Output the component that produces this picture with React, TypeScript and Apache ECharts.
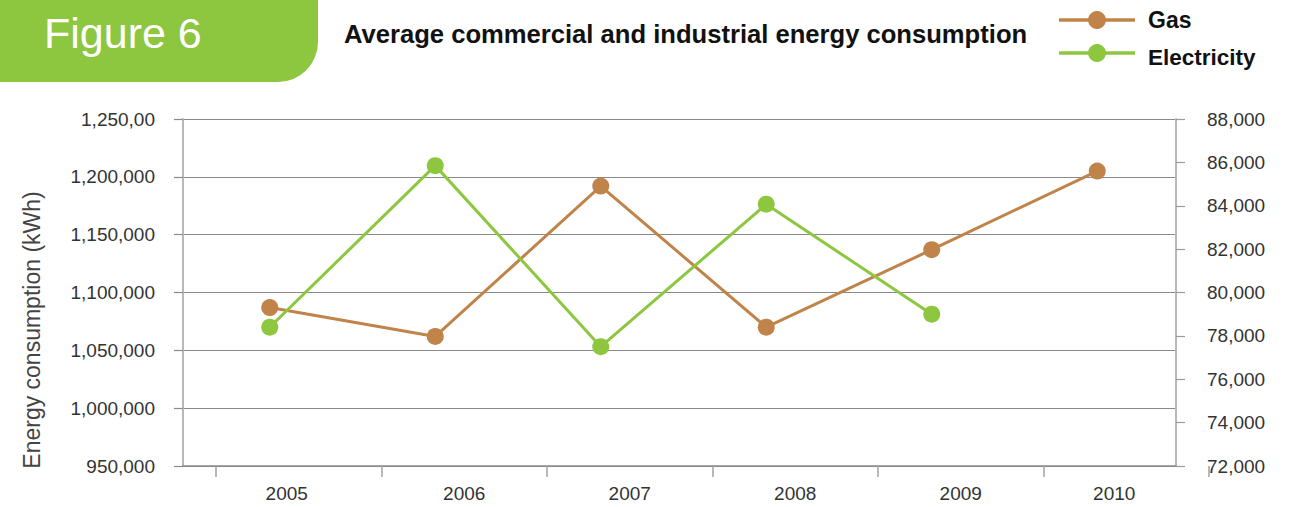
import React, { useEffect, useRef } from "react";
import * as echarts from "echarts";

const years = ["2005", "2006", "2007", "2008", "2009", "2010"];
const gasValues = [1087000, 1062000, 1192000, 1070000, 1137000, 1205000];
const electricityValues = [78400, 85850, 77500, 84070, 79000];
const leftTickLabels = ["950,000", "1,000,000", "1,050,000", "1,100,000", "1,150,000", "1,200,000", "1,250,00"];
const rightTickLabels = ["72,000", "74,000", "76,000", "78,000", "80,000", "82,000", "84,000", "86,000", "88,000"];

const LEFT_MIN = 950000;
const LEFT_MAX = 1250000;
const LEFT_STEP = 50000;
const RIGHT_MIN = 72000;
const RIGHT_MAX = 88000;
const RIGHT_STEP = 2000;

const GAS = "#c0844b";
const ELEC = "#8dc63f";
const FONT = "'Liberation Sans', Arial, Helvetica, sans-serif";
const LABEL = "#333333";

export default function App() {
  const ref = useRef<HTMLDivElement>(null);
  useEffect(() => {
    document.body.style.margin = "0";
    const chart = echarts.init(ref.current!, null, { renderer: "svg" });
    const labelStyle = { fontFamily: FONT, fontSize: 19, color: LABEL };
    chart.setOption({
      animation: false,
      backgroundColor: "#ffffff",
      textStyle: { fontFamily: FONT },
      grid: [
        { left: 183, right: 124, top: 119, bottom: 41 },
        { left: 216, right: 91, top: 119, bottom: 41 },
        { left: 187, right: 120, top: 119, bottom: 41 },
      ],
      xAxis: [
        {
          type: "category",
          gridIndex: 0,
          data: years,
          boundaryGap: true,
          axisLine: { show: true, lineStyle: { color: "#8a8a8a", width: 1.5 } },
          axisTick: { show: false },
          axisLabel: { show: false },
          splitLine: { show: false },
        },
        {
          type: "category",
          gridIndex: 1,
          data: years,
          boundaryGap: true,
          axisLine: { show: false },
          axisTick: { show: true, length: 11, alignWithLabel: false, lineStyle: { color: "#a0a0a0", width: 1.5 } },
          axisLabel: {
            ...labelStyle,
            margin: 18,
            formatter: (v: string, i: number) => (i === 0 || i === years.length - 1 ? `{s|${v}}` : v),
            rich: { s: { ...labelStyle, padding: [0, 24, 0, 0] } },
          },
          splitLine: { show: false },
        },
        {
          type: "category",
          gridIndex: 2,
          data: years,
          boundaryGap: true,
          show: false,
        },
      ],
      yAxis: [
        {
          type: "value",
          gridIndex: 0,
          position: "left",
          min: LEFT_MIN,
          max: LEFT_MAX,
          interval: LEFT_STEP,
          axisLine: { show: true, lineStyle: { color: "#b8b8b8", width: 2 } },
          axisTick: { show: true, length: 9, lineStyle: { color: "#8a8a8a", width: 1.2 } },
          axisLabel: {
            ...labelStyle,
            margin: 28,
            formatter: (v: number) => leftTickLabels[Math.round((v - LEFT_MIN) / LEFT_STEP)],
          },
          splitLine: { show: true, lineStyle: { color: "#8a8a8a", width: 1.2 } },
        },
        {
          type: "value",
          gridIndex: 0,
          position: "right",
          min: RIGHT_MIN,
          max: RIGHT_MAX,
          interval: RIGHT_STEP,
          alignTicks: false,
          axisLine: { show: true, lineStyle: { color: "#b8b8b8", width: 2 } },
          axisTick: { show: true, length: 9, lineStyle: { color: "#9a9a9a", width: 1.2 } },
          axisLabel: {
            ...labelStyle,
            margin: 31,
            formatter: (v: number) => rightTickLabels[Math.round((v - RIGHT_MIN) / RIGHT_STEP)],
          },
          splitLine: { show: false },
        },
        { type: "value", gridIndex: 1, show: false, min: 0, max: 1 },
        { type: "value", gridIndex: 2, show: false, min: LEFT_MIN, max: LEFT_MAX },
        { type: "value", gridIndex: 2, show: false, min: RIGHT_MIN, max: RIGHT_MAX },
      ],
      series: [
        {
          name: "Gas",
          type: "line",
          xAxisIndex: 2,
          yAxisIndex: 3,
          data: gasValues,
          symbol: "circle",
          symbolSize: 17,
          lineStyle: { color: GAS, width: 3 },
          itemStyle: { color: GAS },
        },
        {
          name: "Electricity",
          type: "line",
          xAxisIndex: 2,
          yAxisIndex: 4,
          data: electricityValues,
          symbol: "circle",
          symbolSize: 17,
          lineStyle: { color: ELEC, width: 3 },
          itemStyle: { color: ELEC },
        },
      ],
      graphic: [
        {
          type: "rect",
          shape: { x: 0, y: 0, width: 318, height: 82, r: [0, 0, 40, 0] },
          style: { fill: ELEC },
        },
        {
          type: "text",
          x: 44,
          y: 33,
          style: { text: "Figure 6", fill: "#ffffff", font: `43px ${FONT}`, align: "left", verticalAlign: "middle" },
        },
        {
          type: "text",
          x: 344,
          y: 34,
          style: {
            text: "Average commercial and industrial energy consumption",
            fill: "#111111",
            font: `bold 25.6px ${FONT}`,
            align: "left",
            verticalAlign: "middle",
          },
        },
        {
          type: "text",
          x: 32,
          y: 330,
          rotation: Math.PI / 2,
          style: {
            text: "Energy consumption (kWh)",
            fill: "#444444",
            font: `23px ${FONT}`,
            align: "center",
            verticalAlign: "middle",
          },
        },
        { type: "line", shape: { x1: 1059, y1: 20, x2: 1135, y2: 20 }, style: { stroke: GAS, lineWidth: 3.5 } },
        { type: "circle", shape: { cx: 1097, cy: 20, r: 9 }, style: { fill: GAS } },
        {
          type: "text",
          x: 1148,
          y: 20,
          style: { text: "Gas", fill: "#111111", font: `bold 23px ${FONT}`, align: "left", verticalAlign: "middle" },
        },
        { type: "line", shape: { x1: 1059, y1: 53, x2: 1135, y2: 53 }, style: { stroke: ELEC, lineWidth: 3.5 } },
        { type: "circle", shape: { cx: 1097, cy: 53, r: 9 }, style: { fill: ELEC } },
        {
          type: "text",
          x: 1148,
          y: 57,
          style: { text: "Electricity", fill: "#111111", font: `bold 22.5px ${FONT}`, align: "left", verticalAlign: "middle" },
        },
      ],
    });
    return () => chart.dispose();
  }, []);
  return <div ref={ref} style={{ position: "absolute", left: 0, top: 0, width: 1300, height: 507 }} />;
}
